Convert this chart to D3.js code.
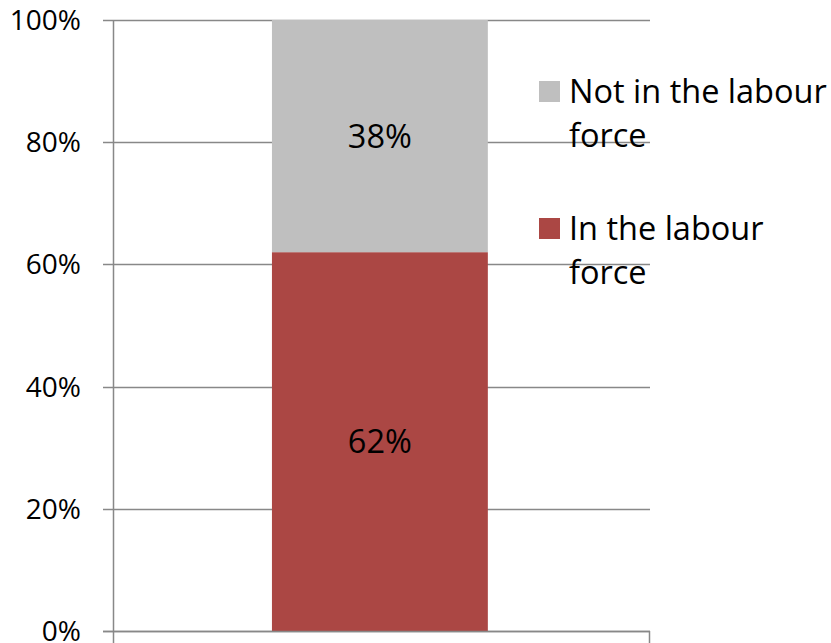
<!DOCTYPE html>
<html>
<head>
<meta charset="utf-8">
<script src="https://cdn.jsdelivr.net/npm/d3@7"></script>
<style>
  html, body { margin: 0; padding: 0; background: #fff; }
  svg { display: block; }
  text { font-family: "Open Sans", "Noto Sans", sans-serif; fill: #000; }
</style>
</head>
<body>
<svg id="chart" width="831" height="643"></svg>
<script>
const categories = [""];
const seriesNames = ["In the labour force", "Not in the labour force"];
const inLabour = [0.62];
const notInLabour = [0.38];
const yTicks = [0, 0.2, 0.4, 0.6, 0.8, 1.0];
const yTickLabels = ["0%", "20%", "40%", "60%", "80%", "100%"];
const legendLines = [["Not in the labour", "force"], ["In the labour", "force"]];
const colors = { "In the labour force": "#AB4744", "Not in the labour force": "#BFBFBF" };

(function () {
const svg = d3.select("#chart");
const pLeft = 113, pRight = 650, pTop = 20, pBottom = 631;
const gridColor = "#888888";
const tickFont = 28;
const labelFont = 32.5;

const y = d3.scaleLinear().domain([0, 1]).range([pBottom, pTop]);
const x = d3.scaleBand().domain(categories).range([pLeft, pRight])
  .paddingInner(0.4265).paddingOuter(0.4265).align(0.495);

svg.append("g").selectAll("line").data(yTicks).join("line")
  .attr("x1", pLeft - 10).attr("x2", pRight)
  .attr("y1", d => Math.round(y(d)) + 0.5).attr("y2", d => Math.round(y(d)) + 0.5)
  .attr("stroke", gridColor).attr("stroke-width", 1.5);

const rows = categories.map((c, i) => ({ cat: c, "In the labour force": inLabour[i], "Not in the labour force": notInLabour[i] }));
const stack = d3.stack().keys(seriesNames)(rows);

const gBars = svg.append("g");
stack.forEach(layer => {
  gBars.selectAll(null).data(layer).join("rect")
    .attr("x", d => x(d.data.cat))
    .attr("width", x.bandwidth())
    .attr("y", d => y(d[1]))
    .attr("height", d => y(d[0]) - y(d[1]))
    .attr("fill", colors[layer.key]);
  gBars.selectAll(null).data(layer).join("text")
    .attr("x", d => x(d.data.cat) + x.bandwidth() / 2)
    .attr("y", d => (y(d[0]) + y(d[1])) / 2 + 0.357 * labelFont)
    .attr("text-anchor", "middle")
    .attr("font-size", labelFont)
    .text(d => Math.round((d[1] - d[0]) * 100) + "%");
});

svg.append("line")
  .attr("x1", pLeft + 0.5).attr("x2", pLeft + 0.5)
  .attr("y1", pTop).attr("y2", 643)
  .attr("stroke", gridColor).attr("stroke-width", 1.5);
svg.append("line")
  .attr("x1", pRight - 0.5).attr("x2", pRight - 0.5)
  .attr("y1", pBottom).attr("y2", 643)
  .attr("stroke", gridColor).attr("stroke-width", 1.5);
svg.append("line")
  .attr("x1", pLeft - 10).attr("x2", pRight)
  .attr("y1", Math.round(y(0)) + 0.5).attr("y2", Math.round(y(0)) + 0.5)
  .attr("stroke", gridColor).attr("stroke-width", 1.5);

svg.append("g").selectAll("text").data(yTicks).join("text")
  .attr("x", 81)
  .attr("y", d => y(d) + 0.357 * tickFont)
  .attr("text-anchor", "end")
  .attr("font-size", tickFont)
  .text((d, i) => yTickLabels[i]);

const legendKeys = ["Not in the labour force", "In the labour force"];
const legendTop = [81, 218];
const lg = svg.append("g");
legendKeys.forEach((k, i) => {
  lg.append("rect").attr("x", 539).attr("y", legendTop[i]).attr("width", 21).attr("height", 21).attr("fill", colors[k]);
  const t = lg.append("text").attr("x", 569).attr("y", legendTop[i] + 22).attr("font-size", labelFont);
  legendLines[i].forEach((ln, j) => {
    t.append("tspan").attr("x", 569).attr("dy", j === 0 ? 0 : 44).text(ln);
  });
});
})();
</script>
</body>
</html>
